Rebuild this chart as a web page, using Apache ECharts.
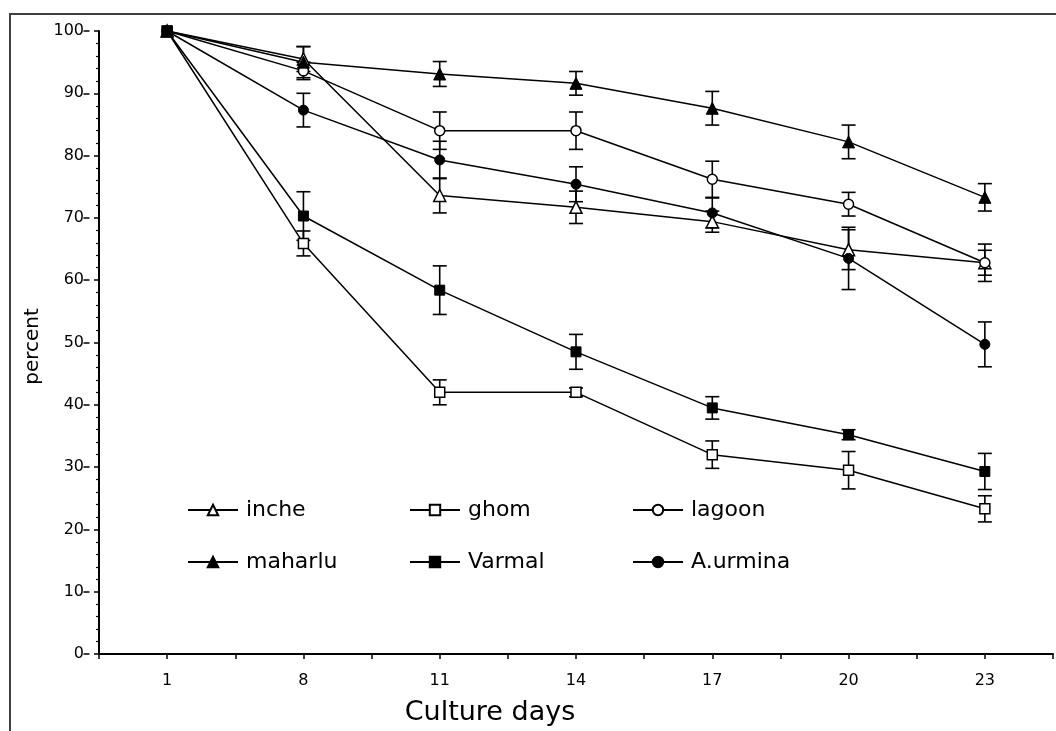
<!DOCTYPE html>
<html><head><meta charset="utf-8">
<script src="https://cdn.jsdelivr.net/npm/echarts@6/dist/echarts.min.js"></script>
<style>html,body{margin:0;padding:0;background:#fff}#c{width:1056px;height:731px}</style>
</head><body><div id="c"></div>
<script>
// Category tick labels (culture days)
const days = ['1', '8', '11', '14', '17', '20', '23'];
// Series values (percent) and error half-widths
const inche      = [100, 95.5, 73.6, 71.7, 69.4, 64.9, 62.8];
const incheErr   = [0, 2.0, 2.8, 2.6, 1.7, 3.2, 3.0];
const ghom       = [100, 65.9, 42.0, 42.0, 32.0, 29.5, 23.3];
const ghomErr    = [0, 2.0, 2.0, 0.7, 2.2, 3.0, 2.1];
const lagoon     = [100, 93.6, 84.0, 84.0, 76.2, 72.2, 62.8];
const lagoonErr  = [0, 1.4, 3.0, 3.0, 2.9, 1.9, 2.0];
const maharlu    = [100, 95.0, 93.1, 91.6, 87.6, 82.2, 73.3];
const maharluErr = [0, 2.5, 2.0, 1.9, 2.7, 2.7, 2.2];
const varmal     = [100, 70.3, 58.4, 48.5, 39.5, 35.2, 29.3];
const varmalErr  = [0, 3.9, 3.9, 2.8, 1.8, 0.8, 2.9];
const urmina     = [100, 87.3, 79.3, 75.4, 70.8, 63.5, 49.7];
const urminaErr  = [0, 2.7, 3.0, 2.8, 2.4, 5.0, 3.6];

const FONT = 'DejaVu Sans';
const seriesDefs = [
  {name: 'inche',    vals: inche,   err: incheErr,   symbol: 'triangle', open: true,  size: 12},
  {name: 'ghom',     vals: ghom,    err: ghomErr,    symbol: 'rect',     open: true,  size: 10},
  {name: 'lagoon',   vals: lagoon,  err: lagoonErr,  symbol: 'circle',   open: true,  size: 10},
  {name: 'maharlu',  vals: maharlu, err: maharluErr, symbol: 'triangle', open: false, size: 12},
  {name: 'Varmal',   vals: varmal,  err: varmalErr,  symbol: 'rect',     open: false, size: 10},
  {name: 'A.urmina', vals: urmina,  err: urminaErr,  symbol: 'circle',   open: false, size: 10}
];

const series = [];
seriesDefs.forEach(d => {
  const pts = d.vals.map((v, i) => [i + 0.5, v, d.err[i]]);
  series.push({
    type: 'custom', name: d.name + '_err', z: 1, silent: true,
    data: pts,
    encode: {x: 0, y: 1},
    renderItem: (params, api) => {
      const x = api.value(0), y = api.value(1), e = api.value(2);
      if (!e) return;
      const t = api.coord([x, y + e]), b = api.coord([x, y - e]);
      const w = 7, st = {stroke: '#000', lineWidth: 1.6};
      return {type: 'group', children: [
        {type: 'line', shape: {x1: t[0], y1: t[1], x2: b[0], y2: b[1]}, style: st},
        {type: 'line', shape: {x1: t[0] - w, y1: t[1], x2: t[0] + w, y2: t[1]}, style: st},
        {type: 'line', shape: {x1: b[0] - w, y1: b[1], x2: b[0] + w, y2: b[1]}, style: st}
      ]};
    }
  });
  series.push({
    type: 'line', name: d.name, z: 3,
    data: pts.map(p => [p[0], p[1]]),
    symbol: d.symbol, symbolSize: d.size, showAllSymbol: true,
    lineStyle: {color: '#000', width: 1.5},
    itemStyle: d.open ? {color: '#fff', borderColor: '#000', borderWidth: 1.5}
                      : {color: '#000', borderColor: '#000', borderWidth: 1},
    emphasis: {disabled: true},
    animation: false
  });
});

// legend positions: columns (line start x), rows (center y)
const legCols = [187, 409, 632];
const legRows = [508, 560];
const legends = seriesDefs.map((d, k) => ({
  data: [d.name],
  left: legCols[k % 3],
  top: legRows[Math.floor(k / 3)] - 9,
  orient: 'horizontal',
  padding: 0,
  itemWidth: 50, itemHeight: 13,
  selectedMode: false,
  textStyle: {fontFamily: FONT, fontSize: 22, color: '#000', padding: [0, 0, 0, 3]}
}));

const chart = echarts.init(document.getElementById('c'), null, {renderer: 'canvas'});
chart.setOption({
  animation: false,
  backgroundColor: '#fff',
  graphic: [{
    type: 'rect', shape: {x: 10, y: 14, width: 1200, height: 900},
    style: {fill: 'none', stroke: '#404040', lineWidth: 2}, silent: true, z: 0
  }],
  legend: legends,
  grid: {left: 99, top: 31, width: 969.5, height: 623, containLabel: false},
  xAxis: {
    type: 'value', min: 0, max: 7, interval: 0.5,
    name: 'Culture days', nameLocation: 'middle', nameGap: 45,
    nameTextStyle: {fontFamily: FONT, fontSize: 27, color: '#000', padding: [0, 172, 0, 0]},
    axisLine: {show: true, onZero: false, lineStyle: {color: '#000', width: 2}},
    axisTick: {show: true, length: 5, inside: false, lineStyle: {color: '#000', width: 1.5}},
    axisLabel: {
      fontFamily: FONT, fontSize: 16, color: '#000', margin: 19, showMinLabel: true, showMaxLabel: true,
      formatter: v => { const i = v - 0.5; return (Number.isInteger(i) && days[i] !== undefined) ? days[i] : ''; }
    },
    splitLine: {show: false}
  },
  yAxis: [{
    type: 'value', min: 0, max: 100, interval: 10,
    name: 'percent', nameLocation: 'middle', nameGap: 55,
    nameTextStyle: {fontFamily: FONT, fontSize: 20, color: '#000', padding: [0, 8, 0, 0]},
    axisLine: {show: true, lineStyle: {color: '#000', width: 2}},
    axisTick: {show: true, length: 5, lineStyle: {color: '#000', width: 1.5}},
    minorTick: {show: true, splitNumber: 5, length: 3, lineStyle: {color: '#000', width: 1.2}},
    axisLabel: {fontFamily: FONT, fontSize: 16, color: '#000', margin: 15},
    splitLine: {show: false}
  }, {
    type: 'value', min: 0, max: 100, interval: 10, position: 'right', offset: -969.5,
    axisLine: {show: false},
    axisTick: {show: true, length: 6, inside: false, lineStyle: {color: '#000', width: 1.5}},
    axisLabel: {show: false},
    splitLine: {show: false}
  }],
  series: series
});
</script></body></html>
